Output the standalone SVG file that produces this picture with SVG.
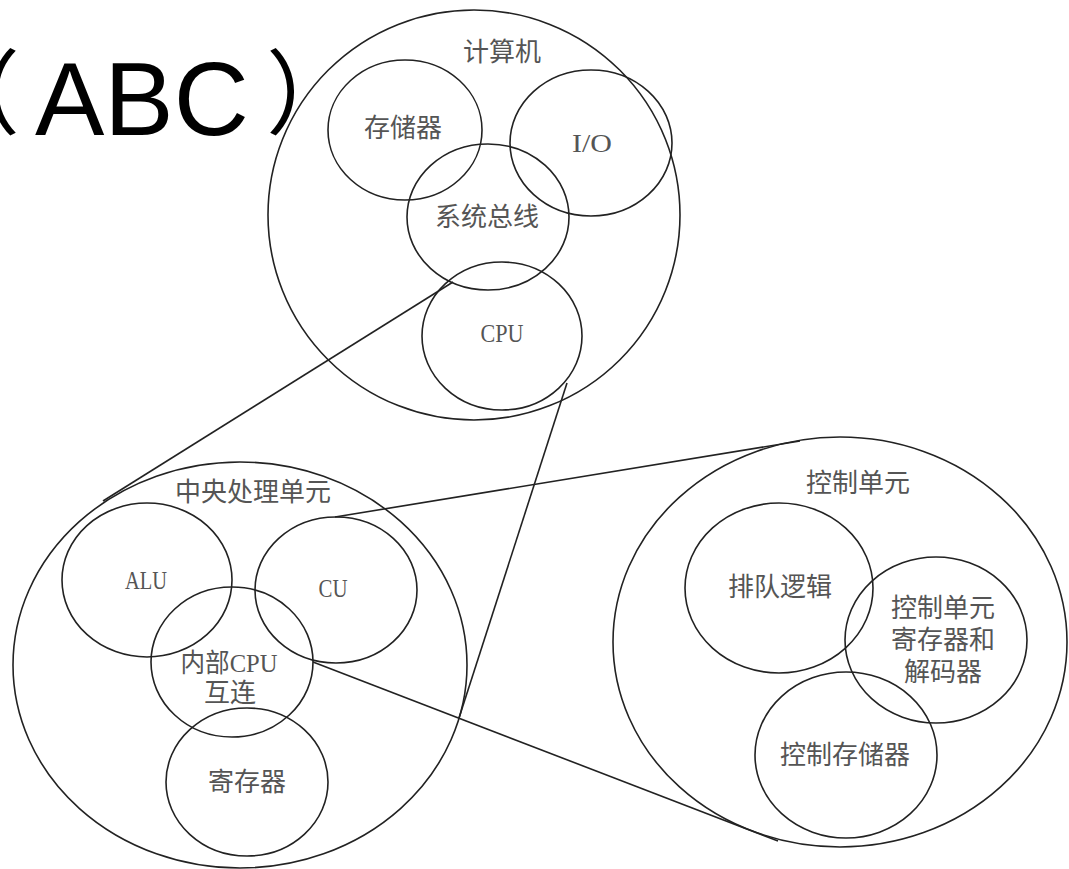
<svg xmlns="http://www.w3.org/2000/svg" width="1069" height="869" viewBox="0 0 1069 869">
<style>
.c{fill:none;stroke:#222;stroke-width:1.6}
.l{fill:none;stroke:#222;stroke-width:1.6}
.t{font-family:"Liberation Serif","Noto Sans CJK SC",serif;font-size:26px;fill:#555;text-anchor:middle;dominant-baseline:central}
.title{font-family:"Liberation Sans",Arial,sans-serif;font-size:104px;fill:#000}
.p{font-family:"Noto Sans CJK SC",sans-serif;font-size:92px;fill:#000}
</style>
<rect width="1069" height="869" fill="#fff"/>
<g id="title">
<text class="p" x="-72" y="127">（</text>
<text class="title" x="35" y="135">ABC</text>
<text class="p" x="266" y="127">）</text>
</g>
<g id="computer">
<ellipse class="c" cx="474" cy="215" rx="206" ry="205"/>
<text class="t" x="502" y="52">计算机</text>
</g>
<g id="memory">
<ellipse class="c" cx="405" cy="130" rx="77" ry="70"/>
<text class="t" x="403" y="128">存储器</text>
</g>
<g id="io">
<ellipse class="c" cx="591" cy="143" rx="81" ry="73"/>
<text class="t" x="592" y="143" textLength="40" lengthAdjust="spacingAndGlyphs">I/O</text>
</g>
<g id="sysbus">
<ellipse class="c" cx="488" cy="217" rx="81" ry="73"/>
<text class="t" x="487" y="217">系统总线</text>
</g>
<g id="cpu">
<ellipse class="c" cx="502" cy="336" rx="80" ry="74"/>
<text class="t" x="502" y="333" textLength="43" lengthAdjust="spacingAndGlyphs">CPU</text>
</g>
<g id="cpu-unit">
<ellipse class="c" cx="240" cy="665" rx="227" ry="203"/>
<text class="t" x="253" y="492">中央处理单元</text>
</g>
<g id="alu">
<ellipse class="c" cx="147" cy="580" rx="85" ry="77"/>
<text class="t" x="146" y="580" textLength="42" lengthAdjust="spacingAndGlyphs">ALU</text>
</g>
<g id="cu">
<ellipse class="c" cx="336" cy="590" rx="81" ry="73"/>
<text class="t" x="333" y="588" textLength="29" lengthAdjust="spacingAndGlyphs">CU</text>
</g>
<g id="internal">
<ellipse class="c" cx="232" cy="662" rx="81" ry="75"/>
<text class="t" x="229" y="663" textLength="97" lengthAdjust="spacingAndGlyphs">内部CPU</text>
<text class="t" x="230" y="693">互连</text>
</g>
<g id="registers">
<ellipse class="c" cx="247" cy="782" rx="81" ry="74"/>
<text class="t" x="247" y="782">寄存器</text>
</g>
<g id="control-unit">
<ellipse class="c" cx="840" cy="642" rx="227" ry="205"/>
<text class="t" x="858" y="483">控制单元</text>
</g>
<g id="sequencing">
<ellipse class="c" cx="779" cy="588" rx="94" ry="85"/>
<text class="t" x="780" y="587">排队逻辑</text>
</g>
<g id="cu-registers">
<ellipse class="c" cx="936" cy="640" rx="91" ry="83"/>
<text class="t" x="943" y="608">控制单元</text>
<text class="t" x="943" y="640">寄存器和</text>
<text class="t" x="943" y="672">解码器</text>
</g>
<g id="control-memory">
<ellipse class="c" cx="846" cy="755" rx="91" ry="83"/>
<text class="t" x="845" y="755">控制存储器</text>
</g>
<g id="connectors">
<line class="l" x1="453" y1="282" x2="103" y2="501"/>
<line class="l" x1="567" y1="383" x2="459" y2="718"/>
<line class="l" x1="335" y1="517" x2="800" y2="441"/>
<line class="l" x1="313" y1="662" x2="778" y2="841"/>
</g>
</svg>
